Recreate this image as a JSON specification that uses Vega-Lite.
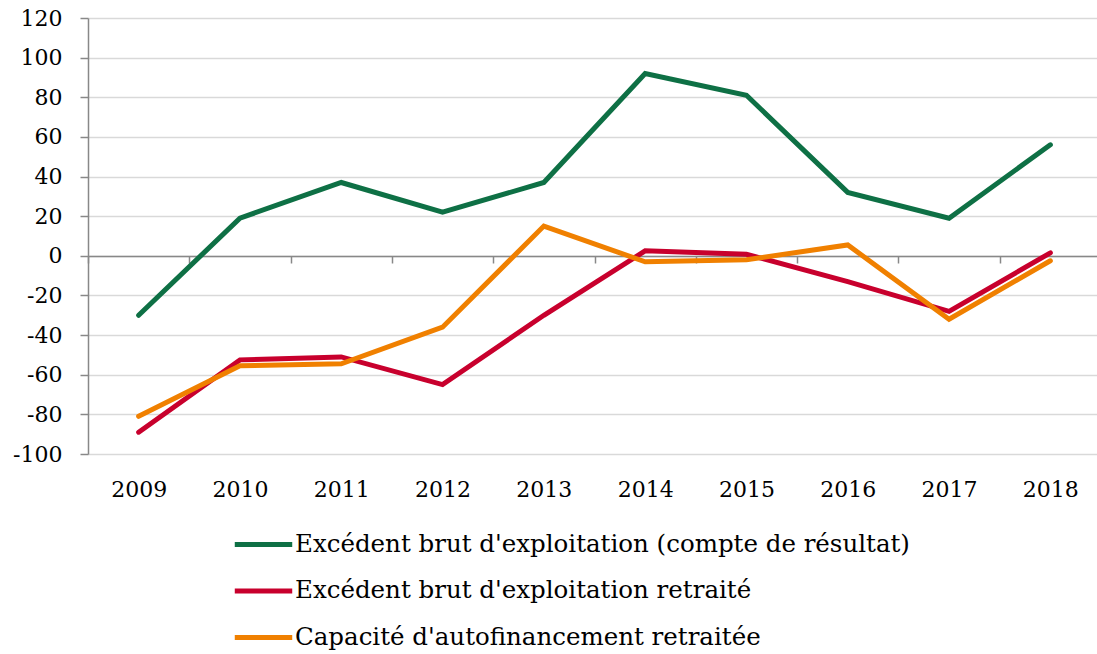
{
  "$schema": "https://vega.github.io/schema/vega-lite/v6.json",
  "width": 1013,
  "height": 436,
  "autosize": "none",
  "padding": {"left": 88, "top": 18, "right": 0, "bottom": 200},
  "background": "white",
  "config": {
    "view": {"stroke": null},
    "font": "DejaVu Serif"
  },
  "data": {
    "values": [
      {"annee": "2009", "serie": "Excédent brut d'exploitation (compte de résultat)", "valeur": -30},
      {"annee": "2010", "serie": "Excédent brut d'exploitation (compte de résultat)", "valeur": 19},
      {"annee": "2011", "serie": "Excédent brut d'exploitation (compte de résultat)", "valeur": 37},
      {"annee": "2012", "serie": "Excédent brut d'exploitation (compte de résultat)", "valeur": 22},
      {"annee": "2013", "serie": "Excédent brut d'exploitation (compte de résultat)", "valeur": 37},
      {"annee": "2014", "serie": "Excédent brut d'exploitation (compte de résultat)", "valeur": 92},
      {"annee": "2015", "serie": "Excédent brut d'exploitation (compte de résultat)", "valeur": 81},
      {"annee": "2016", "serie": "Excédent brut d'exploitation (compte de résultat)", "valeur": 32},
      {"annee": "2017", "serie": "Excédent brut d'exploitation (compte de résultat)", "valeur": 19},
      {"annee": "2018", "serie": "Excédent brut d'exploitation (compte de résultat)", "valeur": 56},
      {"annee": "2009", "serie": "Excédent brut d'exploitation retraité", "valeur": -89},
      {"annee": "2010", "serie": "Excédent brut d'exploitation retraité", "valeur": -52.5},
      {"annee": "2011", "serie": "Excédent brut d'exploitation retraité", "valeur": -51},
      {"annee": "2012", "serie": "Excédent brut d'exploitation retraité", "valeur": -65},
      {"annee": "2013", "serie": "Excédent brut d'exploitation retraité", "valeur": -30},
      {"annee": "2014", "serie": "Excédent brut d'exploitation retraité", "valeur": 2.5},
      {"annee": "2015", "serie": "Excédent brut d'exploitation retraité", "valeur": 0.8},
      {"annee": "2016", "serie": "Excédent brut d'exploitation retraité", "valeur": -13},
      {"annee": "2017", "serie": "Excédent brut d'exploitation retraité", "valeur": -28},
      {"annee": "2018", "serie": "Excédent brut d'exploitation retraité", "valeur": 1.5},
      {"annee": "2009", "serie": "Capacité d'autofinancement retraitée", "valeur": -81},
      {"annee": "2010", "serie": "Capacité d'autofinancement retraitée", "valeur": -55.5},
      {"annee": "2011", "serie": "Capacité d'autofinancement retraitée", "valeur": -54.5},
      {"annee": "2012", "serie": "Capacité d'autofinancement retraitée", "valeur": -36},
      {"annee": "2013", "serie": "Capacité d'autofinancement retraitée", "valeur": 15},
      {"annee": "2014", "serie": "Capacité d'autofinancement retraitée", "valeur": -3},
      {"annee": "2015", "serie": "Capacité d'autofinancement retraitée", "valeur": -2},
      {"annee": "2016", "serie": "Capacité d'autofinancement retraitée", "valeur": 5.5},
      {"annee": "2017", "serie": "Capacité d'autofinancement retraitée", "valeur": -32},
      {"annee": "2018", "serie": "Capacité d'autofinancement retraitée", "valeur": -2.5}
    ]
  },
  "mark": {"type": "line", "strokeWidth": 5, "strokeCap": "round"},
  "encoding": {
    "x": {
      "field": "annee",
      "type": "ordinal",
      "scale": {"type": "band", "paddingInner": 0, "paddingOuter": 0},
      "axis": {
        "title": null,
        "orient": "bottom",
        "offset": -198,
        "domainColor": "#888888",
        "domainWidth": 1.5,
        "ticks": true,
        "tickBand": "extent",
        "tickColor": "#888888",
        "tickWidth": 1.5,
        "tickSize": 7,
        "labelPadding": 216,
        "labelAngle": 0,
        "labelFontSize": 22,
        "labelColor": "#000000",
        "grid": false
      }
    },
    "y": {
      "field": "valeur",
      "type": "quantitative",
      "scale": {"domain": [-100, 120], "nice": false, "zero": false},
      "axis": {
        "title": null,
        "values": [-100, -80, -60, -40, -20, 0, 20, 40, 60, 80, 100, 120],
        "labelExpr": "'' + datum.value",
        "domainColor": "#888888",
        "domainWidth": 1.5,
        "tickColor": "#888888",
        "tickWidth": 1.5,
        "tickSize": 8,
        "labelPadding": 18,
        "labelFontSize": 22,
        "labelColor": "#000000",
        "grid": true,
        "gridColor": "#d9d9d9",
        "gridWidth": 1.5
      }
    },
    "color": {
      "field": "serie",
      "type": "nominal",
      "sort": null,
      "scale": {
        "domain": ["Excédent brut d'exploitation (compte de résultat)", "Excédent brut d'exploitation retraité", "Capacité d'autofinancement retraitée"],
        "range": ["#0E7045", "#C8002D", "#F08000"]
      },
      "legend": {
        "title": null,
        "orient": "none",
        "legendX": 144,
        "legendY": 514,
        "direction": "vertical",
        "symbolType": "stroke",
        "symbolSize": 3300,
        "symbolStrokeWidth": 5,
        "symbolOffset": 0,
        "clipHeight": 25,
        "labelOffset": 0,
        "labelFontSize": 24.5,
        "labelColor": "#000000",
        "labelLimit": 800,
        "rowPadding": 20.5
      }
    }
  }
}
